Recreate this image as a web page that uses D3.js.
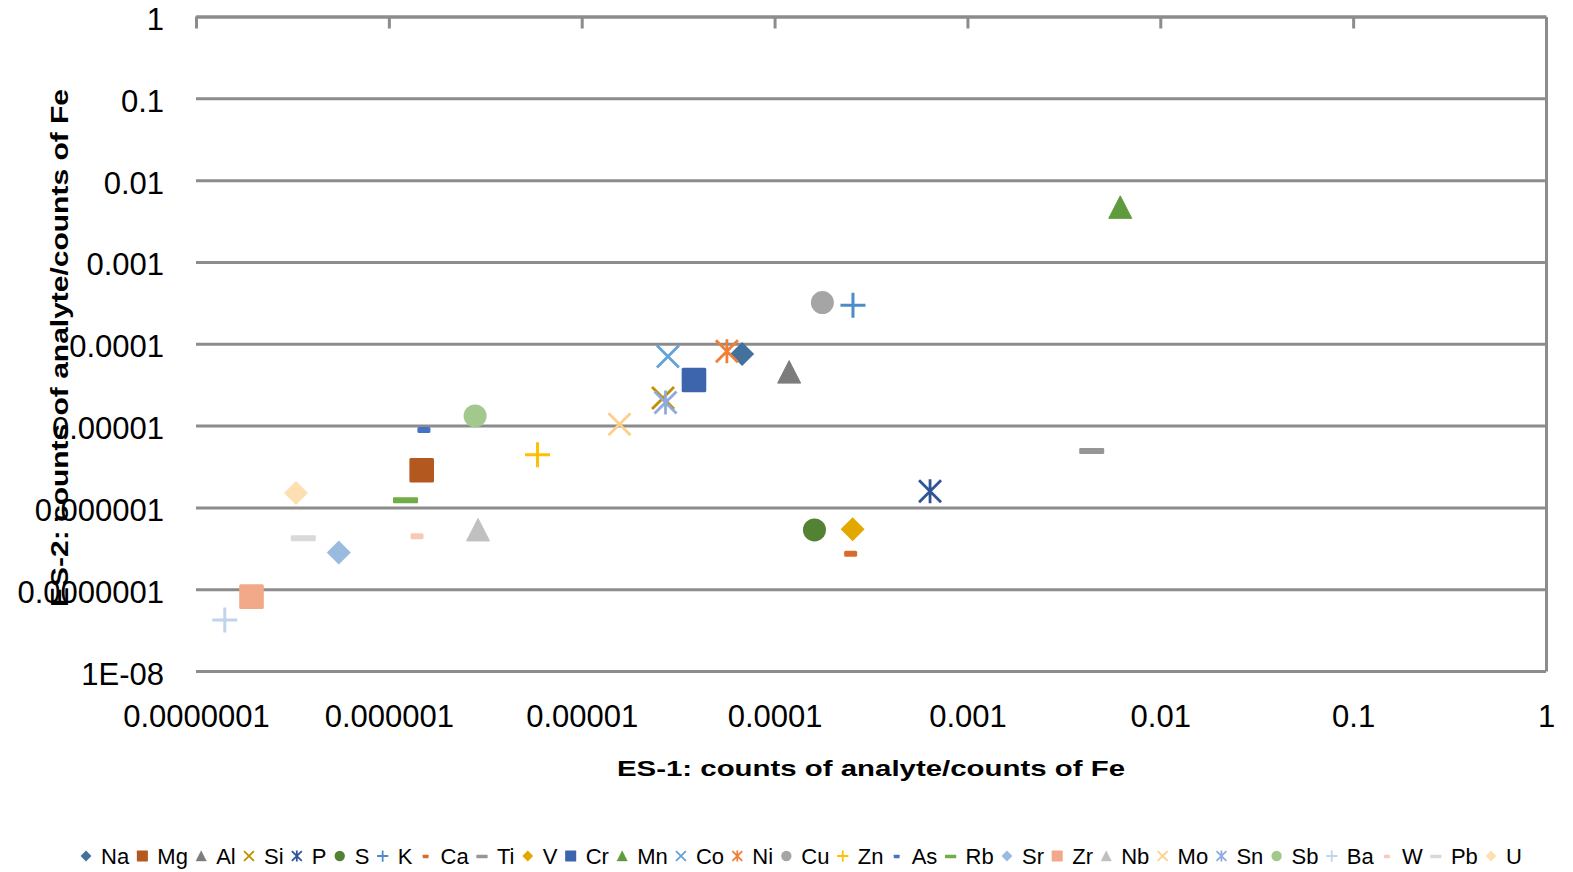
<!DOCTYPE html>
<html>
<head>
<meta charset="utf-8">
<script src="https://cdn.jsdelivr.net/npm/d3@7"></script>
<style>
  body { margin: 0; background: #fff; }
  text { font-family: "Liberation Sans", Arial, sans-serif; fill: #000; }
</style>
</head>
<body>
<div id="chart"></div>
<script>
// data
var elements = ["Na","Mg","Al","Si","P","S","K","Ca","Ti","V","Cr","Mn","Co","Ni",
  "Cu","Zn","As","Rb","Sr","Zr","Nb","Mo","Sn","Sb","Ba","W","Pb","U"];
var es1 = [6.79e-5, 1.48e-6, 1.19e-4, 2.64e-5, 6.4e-4, 1.61e-4, 2.55e-4, 2.48e-4, 4.41e-3,
  2.54e-4, 3.82e-5, 6.2e-3, 2.8e-5, 5.66e-5, 1.77e-4, 5.9e-6, 1.52e-6, 1.22e-6, 5.5e-7,
  1.94e-7, 2.9e-6, 1.57e-5, 2.72e-5, 2.8e-6, 1.41e-7, 1.4e-6, 3.6e-7, 3.3e-7];
var es2 = [7.5e-5, 2.84e-6, 4.5e-5, 2.17e-5, 1.57e-6, 5.3e-7, 2.96e-4, 2.72e-7, 4.9e-6,
  5.4e-7, 3.6e-5, 4.65e-3, 6.97e-5, 8.1e-5, 3.19e-4, 4.4e-6, 8.8e-6, 1.22e-6, 2.8e-7,
  8.1e-8, 5.3e-7, 1.04e-5, 1.91e-5, 1.31e-5, 4.2e-8, 4.45e-7, 4.2e-7, 1.5e-6];

var xTicks = [1e-7, 1e-6, 1e-5, 1e-4, 1e-3, 1e-2, 1e-1, 1];
var xTickLabels = ["0.0000001","0.000001","0.00001","0.0001","0.001","0.01","0.1","1"];
var yTicks = [1e-8, 1e-7, 1e-6, 1e-5, 1e-4, 1e-3, 1e-2, 1e-1, 1];
var yTickLabels = ["1E-08","0.0000001","0.000001","0.00001","0.0001","0.001","0.01","0.1","1"];

// marker styles (Excel default cycle)
var shapes = ["diamond","square","triangle","x","star","circle","plus","dash","longdash"];
var colors = ["#41719c","#b3591f","#7c7c7c","#bf9000","#2f5597","#548235",
  "#4e8bc8","#d86c2c","#969696","#e3a800","#3d65ae","#5f9b3d",
  "#65a2d8","#ef7f36","#a5a5a5","#ffc000","#4472c4","#70ad47",
  "#9abbe0","#f2a98a","#c0c0c0","#fdcf8a","#8faadc","#a3c88e",
  "#c0d4ee","#f8cab6","#d9d9d9","#fedfb2"];

var svgwidth = 1573;
var svgheight = 872;
var plotLeft = 196, plotRight = 1546, plotTop = 16.5, plotBottom = 671;
var gridColor = "#8c8c8c";

var svg = d3.select("#chart").append("svg")
  .attr("width", svgwidth)
  .attr("height", svgheight);

var xscale = d3.scaleLog().domain([1e-7, 1]).range([plotLeft, plotRight]);
var yscale = d3.scaleLog().domain([1e-8, 1]).range([plotBottom, plotTop]);

// horizontal gridlines + y labels
var ygrid = svg.append("g")
  .attr("transform", `translate(${plotLeft},0)`)
  .call(d3.axisLeft(yscale).tickValues(yTicks).tickSize(-(plotRight - plotLeft))
    .tickPadding(32).tickFormat((d, i) => yTickLabels[i]));
ygrid.select(".domain").remove();
ygrid.selectAll("line").attr("stroke", gridColor).attr("stroke-width", 3);
ygrid.selectAll("text").attr("font-size", "31px").attr("dy", "0.42em")
  .attr("font-family", '"Liberation Sans", Arial, sans-serif').attr("fill", "#000");

// top axis line with tick marks pointing down
var xtop = svg.append("g")
  .attr("transform", `translate(0,${plotTop})`)
  .call(d3.axisBottom(xscale).tickValues(xTicks.slice(0, -1)).tickSize(12)
    .tickSizeOuter(0).tickFormat(""));
xtop.select(".domain").attr("stroke", gridColor).attr("stroke-width", 3);
xtop.selectAll("line").attr("stroke", gridColor).attr("stroke-width", 3);

// right border
var yright = svg.append("g")
  .attr("transform", `translate(${plotRight},0)`)
  .call(d3.axisRight(yscale).tickValues([]).tickSizeOuter(0));
yright.select(".domain").attr("stroke", gridColor).attr("stroke-width", 3);

// x labels at bottom
var xbot = svg.append("g")
  .attr("transform", `translate(0,${plotBottom})`)
  .call(d3.axisBottom(xscale).tickValues(xTicks).tickSize(0)
    .tickFormat((d, i) => xTickLabels[i]));
xbot.select(".domain").remove();
xbot.selectAll("text").attr("y", 56).attr("dy", 0).attr("font-size", "31px")
  .attr("font-family", '"Liberation Sans", Arial, sans-serif').attr("fill", "#000");

// marker drawing
function marker(g, type, color, k) {
  if (type === "diamond") {
    g.append("path").attr("d", `M0,${-12*k}L${12*k},0L0,${12*k}L${-12*k},0Z`).attr("fill", color);
  } else if (type === "square") {
    g.append("rect").attr("x", -12.3*k).attr("y", -12.3*k).attr("width", 24.6*k)
      .attr("height", 24.6*k).attr("rx", 1.5*k).attr("fill", color);
  } else if (type === "triangle") {
    g.append("path").attr("d", `M0,${-11.5*k}L${11.5*k},${11*k}L${-11.5*k},${11*k}Z`)
      .attr("fill", color).attr("stroke", color).attr("stroke-width", 1*k).attr("stroke-linejoin", "round");
  } else if (type === "x") {
    g.append("path").attr("d", `M${-11*k},${-11*k}L${11*k},${11*k}M${-11*k},${11*k}L${11*k},${-11*k}`)
      .attr("stroke", color).attr("stroke-width", Math.max(2.8*k, 1.8)).attr("fill", "none");
  } else if (type === "star") {
    g.append("path").attr("d", `M${-11*k},${-11*k}L${11*k},${11*k}M${-11*k},${11*k}L${11*k},${-11*k}M0,${-12*k}L0,${12*k}`)
      .attr("stroke", color).attr("stroke-width", Math.max(2.8*k, 1.8)).attr("fill", "none");
  } else if (type === "circle") {
    g.append("circle").attr("r", 11.5*k).attr("fill", color);
  } else if (type === "plus") {
    g.append("path").attr("d", `M${-12.5*k},0H${12.5*k}M0,${-12.5*k}V${12.5*k}`)
      .attr("stroke", color).attr("stroke-width", Math.max(3*k, 1.8)).attr("fill", "none");
  } else if (type === "dash") {
    g.append("rect").attr("x", -6.5*k).attr("y", -3*k).attr("width", 13*k)
      .attr("height", Math.max(6*k, 3.5)).attr("rx", 1.5*k).attr("fill", color);
  } else {
    g.append("rect").attr("x", -12.5*k).attr("y", -3*k).attr("width", 25*k)
      .attr("height", Math.max(6*k, 3.5)).attr("rx", 1*k).attr("fill", color);
  }
}

// points
var points = svg.append("g");
elements.forEach(function(el, i) {
  var g = points.append("g")
    .attr("transform", `translate(${xscale(es1[i])},${yscale(es2[i])})`);
  marker(g, shapes[i % shapes.length], colors[i], 1);
});

// axis titles
svg.append("text")
  .attr("x", (plotLeft + plotRight) / 2)
  .attr("y", 776)
  .attr("text-anchor", "middle")
  .attr("font-weight", "bold")
  .attr("font-size", "22px")
  .attr("textLength", 508)
  .attr("lengthAdjust", "spacingAndGlyphs")
  .text("ES-1: counts of analyte/counts of Fe");

svg.append("text")
  .attr("transform", "translate(68,348) rotate(-90)")
  .attr("text-anchor", "middle")
  .attr("font-weight", "bold")
  .attr("font-size", "23px")
  .attr("textLength", 518)
  .attr("lengthAdjust", "spacingAndGlyphs")
  .text("ES-2: counts of analyte/counts of Fe");

// legend
var legend = svg.append("g");
var legStart = 80, legEnd = 1516, legY = 856;
var items = elements.map(function(el, i) {
  var g = legend.append("g");
  marker(g.append("g"), shapes[i % shapes.length], colors[i], 0.45);
  var t = g.append("text").attr("x", 15).attr("y", 8).attr("font-size", "22px").text(el);
  return { g: g, w: 15 + t.node().getComputedTextLength() };
});
var totalW = d3.sum(items, d => d.w);
var gap = (legEnd - legStart - totalW) / (items.length - 1);
var cx = legStart;
items.forEach(function(d) {
  d.g.attr("transform", `translate(${cx + 6},${legY})`);
  cx += d.w + gap;
});
</script>
</body>
</html>
